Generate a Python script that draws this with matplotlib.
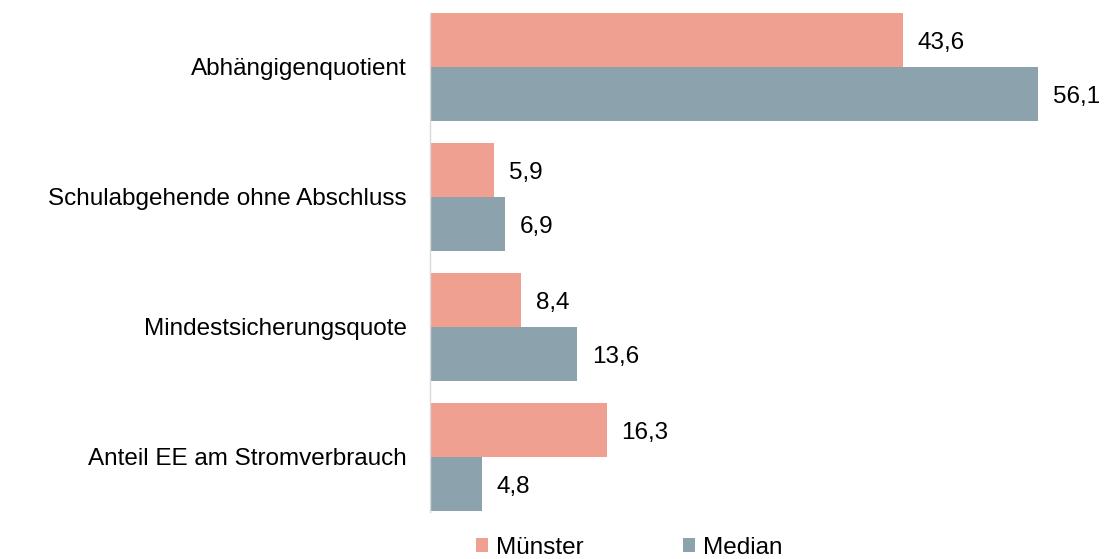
import numpy as np
import matplotlib.pyplot as plt

plt.rcParams['font.family'] = ['Liberation Sans', 'DejaVu Sans']

# Daten
kategorien = ['Abhängigenquotient', 'Schulabgehende ohne Abschluss',
              'Mindestsicherungsquote', 'Anteil EE am Stromverbrauch']
muenster = [43.6, 5.9, 8.4, 16.3]
median = [56.1, 6.9, 13.6, 4.8]

farbe_ms = '#F0A090'
farbe_med = '#8CA3AE'
fs = 17.5

fig = plt.figure(figsize=(11.06, 5.59), dpi=100)
ax = fig.add_axes([430 / 1106, 47 / 559, 670 / 1106, 499 / 559])

y = np.arange(len(kategorien))
h = 0.415
b1 = ax.barh(y - h / 2, muenster, height=h, color=farbe_ms, label='Münster')
b2 = ax.barh(y + h / 2, median, height=h, color=farbe_med, label='Median')

for bars in (b1, b2):
    for rect in bars:
        w = rect.get_width()
        ax.annotate(f'{w:.1f}'.replace('.', ','),
                    (w, rect.get_y() + rect.get_height() / 2),
                    xytext=(10.5, -2.5), textcoords='offset points',
                    va='center', ha='left', fontsize=fs, color='black')

ax.set_xlim(0, 61.8)
ax.set_ylim(3 + 0.425, -0.415)
ax.set_yticks(y)
ax.set_yticklabels(kategorien, fontsize=fs)
ax.tick_params(axis='y', length=0, pad=16.5)
ax.set_xticks([])
for s in ['top', 'right', 'bottom']:
    ax.spines[s].set_visible(False)
ax.spines['left'].set_color('#D9D9D9')
ax.spines['left'].set_linewidth(1)

fig.legend(handles=[b1, b2], loc='center', bbox_to_anchor=(0.569, 0.02),
           ncol=2, frameon=False, fontsize=fs, handlelength=0.5,
           handleheight=0.5, handletextpad=0.33, columnspacing=4.1,
           borderpad=0)

plt.savefig('out.png', dpi=100)
